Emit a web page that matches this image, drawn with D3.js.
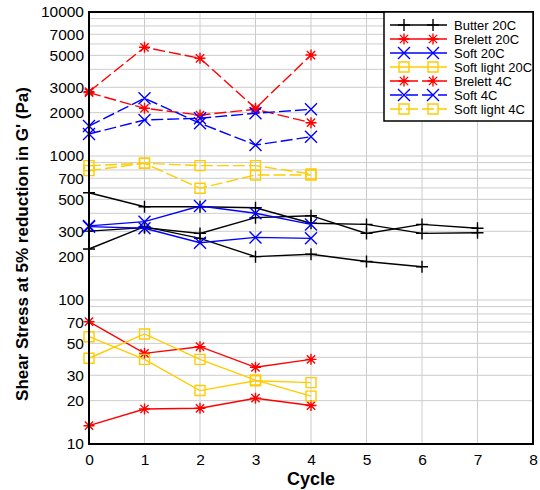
<!DOCTYPE html>
<html><head><meta charset="utf-8">
<script src="https://cdn.jsdelivr.net/npm/d3@7"></script>
<style>body{margin:0;background:#fff}svg{display:block}</style>
</head><body>
<svg id="c" width="540" height="490"></svg>
<script>
const cycles = [0,1,2,3,4,5,6,7];
const xTicks = [0,1,2,3,4,5,6,7,8];
const yTickLabels = [10,20,30,50,70,100,200,300,500,700,1000,2000,3000,5000,7000,10000];

const butter20C = [[556,444,444,437,341,335,290,293],[301,318,290,373,385,290,335,315],[226,323,268,200,208,185,170]];
const brelett20C = [[70.7,42.6,47.4,34.1,38.7],[13.4,17.5,17.7,20.8,18.5]];
const soft20C = [[327,350,449,400,335],[323,315,250,272,268]];
const softLight20C = [[55.6,38.7,23.5,27.5,26.7],[39.4,58.1,38.7,27.8,21.5]];
const brelett4C = [[2797,5687,4770,2144,5027],[2755,2144,1926,2110,1703]];
const soft4C = [[1615,2517,1687,1192,1361],[1422,1778,1828,1981,2110]];
const softLight4C = [[857,890,857,857,750],[791,890,597,738,738]];

const seriesNames = ["Butter 20C","Brelett 20C","Soft 20C","Soft light 20C","Brelett 4C","Soft 4C","Soft light 4C"];
const seriesColors = ["#000000","#ff0000","#0000ff","#ffcc00","#ff0000","#0000ff","#ffcc00"];
const seriesMarkers = ["plus","star","cross","square","star","cross","square"];
const seriesDashed = [false,false,false,false,true,true,true];
const seriesData = [butter20C,brelett20C,soft20C,softLight20C,brelett4C,soft4C,softLight4C];

const svg = d3.select("#c");
const L=89,R=533,T=12,B=444;
const x = d3.scaleLinear().domain([0,8]).range([L,R]);
const y = d3.scaleLog().domain([10,10000]).range([B,T]);
const font = "'Liberation Sans', Arial, Helvetica, sans-serif";

// grid
const gridVals = [];
for (let d=10; d<10000; d*=10) for (let k=1;k<10;k++) gridVals.push(d*k);
gridVals.push(10000);
svg.append("g").selectAll("line").data(gridVals).join("line")
  .attr("x1",L).attr("x2",R).attr("y1",d=>y(d)).attr("y2",d=>y(d))
  .attr("stroke","#cccccc").attr("stroke-width",1);
svg.append("g").selectAll("line").data(xTicks).join("line")
  .attr("x1",d=>x(d)).attr("x2",d=>x(d)).attr("y1",T).attr("y2",B)
  .attr("stroke","#cccccc").attr("stroke-width",1);

// axes
const ya = svg.append("g").attr("transform",`translate(${L},0)`)
  .call(d3.axisLeft(y).tickValues(yTickLabels).tickFormat(d3.format("d")).tickSize(0).tickPadding(5));
ya.select(".domain").remove();
ya.selectAll("text").attr("font-size",15.5).attr("font-family",font).attr("fill","#000");
const xa = svg.append("g").attr("transform",`translate(0,${B})`)
  .call(d3.axisBottom(x).tickValues(xTicks).tickFormat(d3.format("d")).tickSize(0).tickPadding(10));
xa.select(".domain").remove();
xa.selectAll("text").attr("font-size",15.5).attr("font-family",font).attr("fill","#000");

function markerPath(type, r){
  const p = d3.path();
  if(type==="plus"){p.moveTo(-r,0);p.lineTo(r,0);p.moveTo(0,-r);p.lineTo(0,r);}
  else if(type==="cross"){p.moveTo(-r,-r);p.lineTo(r,r);p.moveTo(-r,r);p.lineTo(r,-r);}
  else if(type==="star"){const a=r*0.75;p.moveTo(-r,0);p.lineTo(r,0);p.moveTo(0,-r);p.lineTo(0,r);p.moveTo(-a,-a);p.lineTo(a,a);p.moveTo(-a,a);p.lineTo(a,-a);}
  else if(type==="square"){p.rect(-r,-r,2*r,2*r);}
  return p.toString();
}
const mSize = {plus:6,cross:6,star:5.5,square:5};

const line = d3.line().x((d,i)=>x(cycles[i])).y(d=>y(d));
const plot = svg.append("g");
seriesData.forEach((group,si)=>{
  group.forEach(vals=>{
    plot.append("path").datum(vals).attr("d",line).attr("fill","none")
      .attr("stroke",seriesColors[si]).attr("stroke-width",1.4)
      .attr("stroke-dasharray",seriesDashed[si]?"12,4":null);
    plot.append("g").selectAll("path").data(vals).join("path")
      .attr("transform",(d,i)=>`translate(${x(cycles[i])},${y(d)})`)
      .attr("d",markerPath(seriesMarkers[si],mSize[seriesMarkers[si]]))
      .attr("fill","none").attr("stroke",seriesColors[si]).attr("stroke-width",1.4);
  });
});

// frame
svg.append("rect").attr("x",L).attr("y",T).attr("width",R-L).attr("height",B-T)
  .attr("fill","none").attr("stroke","#000").attr("stroke-width",2);

// legend
const lg = svg.append("g");
lg.append("rect").attr("x",384).attr("y",T).attr("width",R-384).attr("height",109)
  .attr("fill","#fff").attr("stroke","#000").attr("stroke-width",1.5);
seriesNames.forEach((n,i)=>{
  const yy = 25 + i*14;
  lg.append("line").attr("x1",390).attr("x2",447).attr("y1",yy).attr("y2",yy)
    .attr("stroke",seriesColors[i]).attr("stroke-width",1.4)
    .attr("stroke-dasharray",seriesDashed[i]?"12,4":null);
  [404,433].forEach(mx=>{
    lg.append("path").attr("transform",`translate(${mx},${yy})`)
      .attr("d",markerPath(seriesMarkers[i],mSize[seriesMarkers[i]]))
      .attr("fill","none").attr("stroke",seriesColors[i]).attr("stroke-width",1.4);
  });
  lg.append("text").attr("x",454).attr("y",yy+4.5).text(n)
    .attr("font-size",13).attr("font-family",font).attr("fill","#000");
});

// titles
svg.append("text").attr("x",(L+R)/2).attr("y",485).attr("text-anchor","middle")
  .attr("font-size",18).attr("font-weight","bold").attr("font-family",font).text("Cycle");
svg.append("text").attr("transform","translate(28,244) rotate(-90)").attr("text-anchor","middle")
  .attr("font-size",17).attr("font-weight","bold").attr("font-family",font)
  .text("Shear Stress at 5% reduction in G' (Pa)");
</script>
</body></html>
